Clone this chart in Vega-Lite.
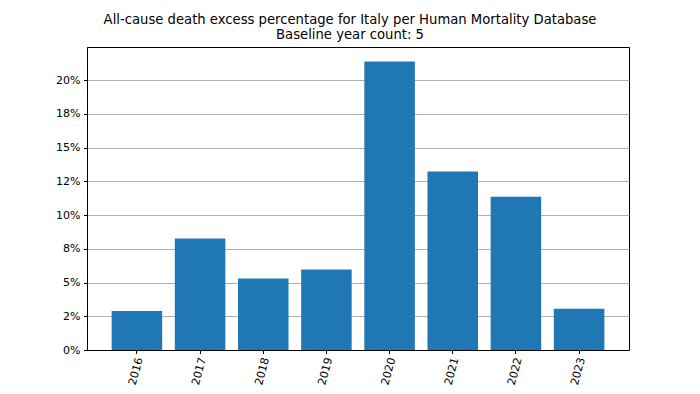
{
  "$schema": "https://vega.github.io/schema/vega-lite/v6.json",
  "width": 542,
  "height": 303,
  "autosize": "none",
  "padding": {"left": 87, "top": 47, "right": 71, "bottom": 44},
  "background": "white",
  "title": {
    "text": ["All-cause death excess percentage for Italy per Human Mortality Database", "Baseline year count: 5"],
    "font": "DejaVu Sans",
    "fontSize": 13.2,
    "fontWeight": "normal",
    "color": "black",
    "lineHeight": 15,
    "offset": 5,
    "dx": -8,
    "anchor": "middle"
  },
  "data": {
    "values": [
      {"year": "2016", "excess": 2.89},
      {"year": "2017", "excess": 8.27},
      {"year": "2018", "excess": 5.30},
      {"year": "2019", "excess": 5.97},
      {"year": "2020", "excess": 21.38},
      {"year": "2021", "excess": 13.23},
      {"year": "2022", "excess": 11.36},
      {"year": "2023", "excess": 3.06}
    ]
  },
  "mark": {"type": "bar", "color": "#1f77b4"},
  "encoding": {
    "x": {
      "field": "year",
      "type": "ordinal",
      "scale": {"paddingInner": 0.2, "paddingOuter": 0.39},
      "axis": {
        "title": null,
        "labelAngle": -75,
        "labelAlign": "right",
        "labelBaseline": "middle",
        "labelOffset": 3,
        "labelPadding": 4,
        "labelFont": "DejaVu Sans",
        "labelFontSize": 11,
        "labelColor": "black",
        "tickColor": "black",
        "tickSize": 3.5,
        "domainColor": "black",
        "grid": false
      }
    },
    "y": {
      "field": "excess",
      "type": "quantitative",
      "scale": {"domain": [0, 22.45], "nice": false, "zero": true},
      "axis": {
        "title": null,
        "values": [0, 2.5, 5, 7.5, 10, 12.5, 15, 17.5, 20],
        "labelExpr": "datum.value == 2.5 ? '2%' : datum.value == 12.5 ? '12%' : format(datum.value, '.0f') + '%'",
        "labelFont": "DejaVu Sans",
        "labelFontSize": 11,
        "labelColor": "black",
        "labelPadding": 3.5,
        "tickColor": "black",
        "tickSize": 3.5,
        "domainColor": "black",
        "grid": true,
        "gridColor": "#b0b0b0",
        "gridWidth": 1
      }
    }
  },
  "config": {
    "view": {"stroke": "black", "strokeWidth": 1},
    "axis": {"domainWidth": 1, "tickWidth": 1}
  }
}
